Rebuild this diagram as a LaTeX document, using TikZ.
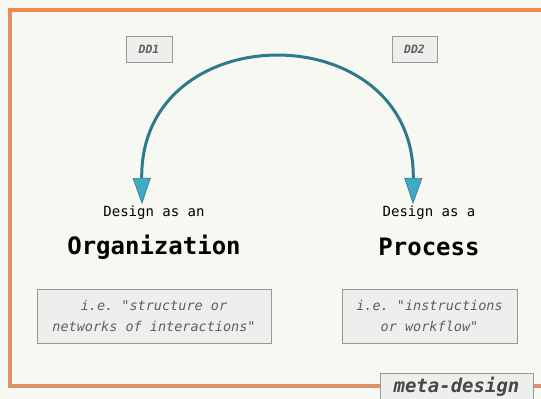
\documentclass[tikz,border=0pt]{standalone}
\usepackage{fontspec}
\setmonofont{DejaVu Sans Mono}
\usetikzlibrary{arrows.meta}
\definecolor{paper}{RGB}{248,248,243}
\definecolor{frametop}{RGB}{238,138,78}
\definecolor{frameside}{RGB}{218,148,102}
\definecolor{arccol}{RGB}{44,122,138}
\definecolor{arctip}{RGB}{62,170,196}
\definecolor{boxfill}{RGB}{237,239,237}
\definecolor{boxline}{RGB}{150,152,150}
\definecolor{notecol}{RGB}{95,95,95}
\begin{document}
\begin{tikzpicture}[x=1pt,y=-1pt,
  tag/.style={draw=boxline,fill=boxfill,line width=0.8pt,inner sep=0pt,text=notecol,
    font=\ttfamily\bfseries\itshape\fontsize{11.5}{13}\selectfont},
  notebox/.style={tag,minimum height=54pt,align=center,
    font=\ttfamily\itshape\fontsize{13.5}{21}\selectfont},
  subtitle/.style={font=\ttfamily\fontsize{14}{16}\selectfont},
  title/.style={font=\ttfamily\bfseries\fontsize{24}{28}\selectfont},
  tip/.tip={Triangle[length=26pt,width=18pt,fill=arctip,line width=0.6pt]}]
  \useasboundingbox (0,0) rectangle (541,399);
  \fill[paper] (0,0) rectangle (541,399);
  \draw[frameside, line width=4.5pt] (10,10) -- (10,386) -- (541,386);
  \draw[frametop, line width=4.5pt] (541,10) -- (7.75,10);
  \node[tag, minimum width=46pt, minimum height=26pt] (dd1) at (149,49) {DD1};
  \node[tag, minimum width=45pt, minimum height=26pt] (dd2) at (414.5,49) {DD2};
  \node[subtitle] (orgsub) at (154,213) {Design as an};
  \node[title] (org) at (154,247) {Organization};
  \node[subtitle] (procsub) at (429,213) {Design as a};
  \node[title] (proc) at (429,247) {Process};
  \node[notebox, minimum width=234pt] (orgnote) at (154,316) {i.e. "structure or\\networks of interactions"};
  \node[notebox, minimum width=175pt] (procnote) at (429.5,316) {i.e. "instructions\\or workflow"};
  \node[tag, minimum width=153pt, minimum height=28pt, text=black!72,
    font=\ttfamily\bfseries\itshape\fontsize{19}{22}\selectfont] (meta) at (456.5,387) {meta-design};
  \coordinate (orgend) at (142,204);
  \coordinate (procend) at (413,204);
  \draw[arccol, line width=3pt, {tip}-{tip}] (orgend) .. controls (140,14) and (415,14) .. (procend);
\end{tikzpicture}
\end{document}
